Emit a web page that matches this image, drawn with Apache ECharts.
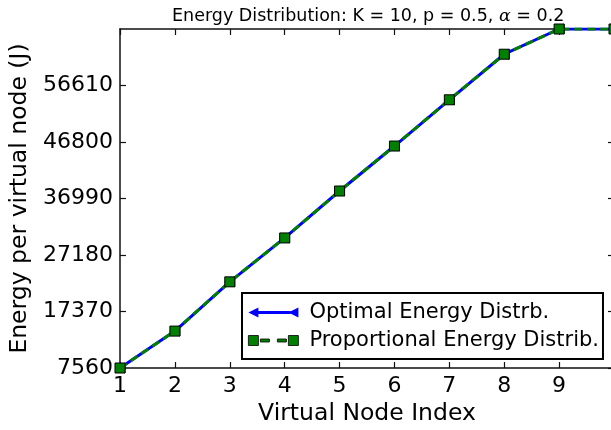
<!DOCTYPE html>
<html>
<head>
<meta charset="utf-8">
<script src="https://cdn.jsdelivr.net/npm/echarts@6/dist/echarts.min.js"></script>
<style>
html,body{margin:0;padding:0;background:#fff;}
#chart{width:611px;height:430px;}
</style>
</head>
<body>
<div id="chart"></div>
<script>
var nodeIndex = [1, 2, 3, 4, 5, 6, 7, 8, 9, 10];
var optimalEnergy = [7560, 13970, 22520, 30140, 38290, 46100, 54130, 62040, 66420, 66420];
var proportionalEnergy = [7560, 13970, 22520, 30140, 38290, 46100, 54130, 62040, 66420, 66420];
var yTicks = [7560, 17370, 27180, 36990, 46800, 56610, 66420];
var seriesNames = ['Optimal Energy Distrb.', 'Proportional Energy Distrib.'];
var titleText = 'Energy Distribution: K = 10, p = 0.5, {a|\u03b1} = 0.2';

function pairs(xs, ys) { return xs.map(function (x, i) { return [x, ys[i]]; }); }

var FONT = 'DejaVu Sans';
var chart = echarts.init(document.getElementById('chart'), null, {renderer: 'canvas'});

var yMin = yTicks[0], yMax = yTicks[yTicks.length - 1], yStep = yTicks[1] - yTicks[0];

var triIcon = 'path://M0,5L10,0L10,10ZM8,3.5L42,3.5L42,6.5L8,6.5ZM40,5L50,0L50,10Z';
var sqIcon = 'path://M0,0L10,0L10,10L0,10ZM12,3.5L21,3.5L21,6.5L12,6.5ZM29,3.5L38,3.5L38,6.5L29,6.5ZM40,0L50,0L50,10L40,10Z';

var axisLineStyle = {color: '#111', width: 1.5};
var tickStyle = {show: true, inside: true, length: 6, lineStyle: {color: '#111', width: 1.2}};

chart.setOption({
  animation: false,
  backgroundColor: '#fff',
  title: {
    text: titleText,
    left: 167, top: 2,
    textStyle: {fontFamily: FONT, fontSize: 17.5, fontWeight: 'normal', color: '#000',
      rich: {a: {fontFamily: 'DejaVu Serif', fontStyle: 'italic', fontSize: 17.5, color: '#000'}}}
  },
  grid: {left: 120, top: 29, width: 494, height: 339, containLabel: false, outerBoundsMode: 'none'},
  xAxis: [{
    type: 'value', min: nodeIndex[0], max: nodeIndex[nodeIndex.length - 1], interval: 1,
    position: 'bottom',
    name: 'Virtual Node Index', nameLocation: 'middle', nameGap: 30,
    nameTextStyle: {fontFamily: FONT, fontSize: 23.5, color: '#000'},
    axisLine: {show: true, lineStyle: axisLineStyle},
    axisTick: tickStyle,
    axisLabel: {fontFamily: FONT, fontSize: 22, color: '#000', margin: 7, showMaxLabel: false,
      formatter: function (v) { return v >= 10 ? '' : String(v); }},
    splitLine: {show: false}
  }, {
    type: 'value', min: nodeIndex[0], max: nodeIndex[nodeIndex.length - 1], interval: 1,
    position: 'top',
    axisLine: {show: true, lineStyle: axisLineStyle},
    axisTick: tickStyle,
    axisLabel: {show: false},
    splitLine: {show: false}
  }],
  yAxis: [{
    type: 'value', min: yMin, max: yMax, interval: yStep,
    position: 'left',
    name: 'Energy per virtual node (J)', nameLocation: 'middle', nameGap: 84,
    nameTextStyle: {fontFamily: FONT, fontSize: 23.5, color: '#000'},
    axisLine: {show: true, lineStyle: axisLineStyle},
    axisTick: tickStyle,
    axisLabel: {fontFamily: FONT, fontSize: 22, color: '#000', margin: 7, showMaxLabel: false,
      formatter: function (v) { return String(v); }},
    splitLine: {show: false}
  }, {
    type: 'value', min: yMin, max: yMax, interval: yStep,
    position: 'right',
    axisLine: {show: true, lineStyle: axisLineStyle},
    axisTick: tickStyle,
    axisLabel: {show: false},
    splitLine: {show: false}
  }],
  legend: {
    orient: 'vertical',
    left: 242, top: 293,
    padding: [9, 4, 8, 6],
    itemGap: 7,
    itemWidth: 50, itemHeight: 10,
    borderColor: '#000', borderWidth: 2, borderRadius: 0,
    backgroundColor: '#fff',
    textStyle: {fontFamily: FONT, fontSize: 21, color: '#000', padding: [0, 0, 0, 6]},
    data: [
      {name: seriesNames[0], icon: triIcon, itemStyle: {color: '#0000ff', borderColor: '#000', borderWidth: 0}},
      {name: seriesNames[1], icon: sqIcon, itemStyle: {color: '#008000', borderColor: '#000', borderWidth: 0.8}}
    ]
  },
  series: [{
    name: seriesNames[0], type: 'line',
    xAxisIndex: 0, yAxisIndex: 0,
    data: pairs(nodeIndex, optimalEnergy),
    symbol: 'triangle', symbolSize: 10, symbolRotate: 90,
    lineStyle: {color: '#0000ff', width: 3},
    itemStyle: {color: '#0000ff', borderColor: '#000', borderWidth: 1},
    clip: true, z: 2
  }, {
    name: seriesNames[1], type: 'line',
    xAxisIndex: 0, yAxisIndex: 0,
    data: pairs(nodeIndex, proportionalEnergy),
    symbol: 'rect', symbolSize: 10,
    lineStyle: {color: '#008000', width: 3, type: [8, 5]},
    itemStyle: {color: '#008000', borderColor: '#000', borderWidth: 1},
    clip: true, z: 3
  }]
});
</script>
</body>
</html>
